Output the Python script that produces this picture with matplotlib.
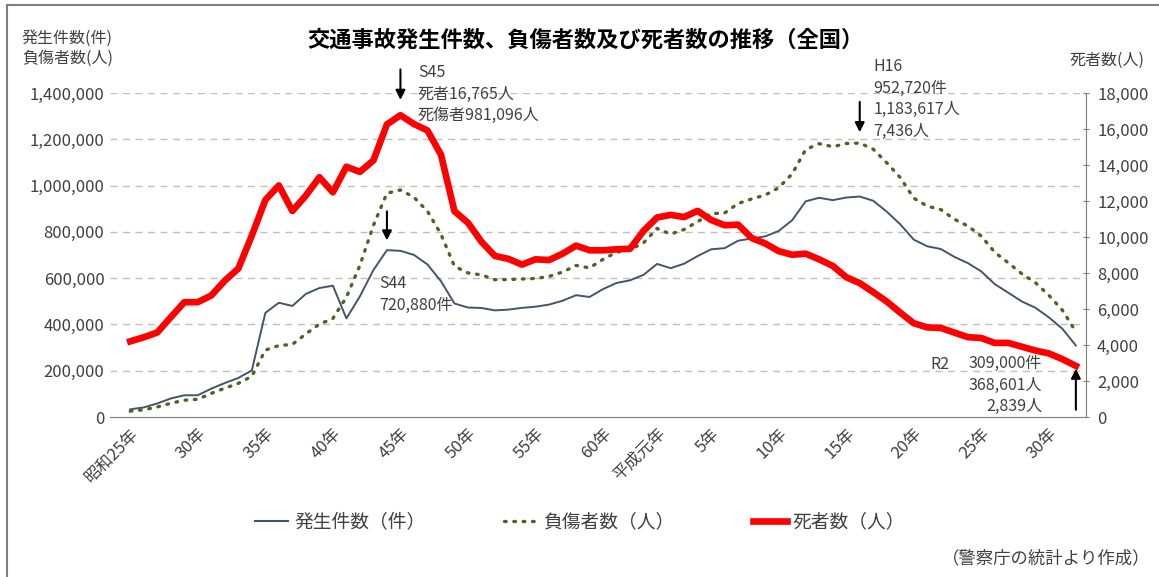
import matplotlib
matplotlib.use("Agg")
import matplotlib.pyplot as plt
from matplotlib.lines import Line2D
from matplotlib.patches import Rectangle
from matplotlib.ticker import FuncFormatter, MultipleLocator
import numpy as np

plt.rcParams['font.family'] = ['Noto Sans CJK JP', 'DejaVu Sans']

# 昭和25年(1950) ～ 令和2年(2020)
years = np.arange(1950, 2021)

accidents = [
    33212, 41423, 58487, 80019, 93869, 93981, 122691, 146833, 168799, 201292,
    449917, 493693, 479825, 531966, 557183, 567286, 425944, 521481, 635056, 720880,
    718080, 700290, 659283, 586713, 490452, 472938, 471041, 460649, 464037, 471573,
    476677, 485578, 502261, 526362, 518642, 552788, 579190, 590723, 614481, 661363,
    643097, 662392, 695345, 724675, 729461, 761794, 771085, 780401, 803882, 850371,
    931950, 947253, 936950, 948281, 952720, 934346, 887267, 832704, 766394, 737628,
    725924, 692084, 665157, 629033, 573842, 536899, 499201, 472165, 430601, 381237,
    309000,
]
injured = [
    25450, 31274, 43321, 59280, 72390, 76501, 102072, 124530, 145432, 175951,
    289156, 308697, 313813, 359089, 401117, 425666, 517775, 655377, 828071, 967000,
    981096, 949689, 889198, 789948, 651420, 622467, 613957, 593211, 594116, 596282,
    598719, 607346, 626192, 654822, 644321, 681346, 712330, 722179, 752845, 814832,
    790295, 810245, 844003, 878633, 881723, 922677, 942204, 958925, 990676, 1050399,
    1155707, 1181039, 1168029, 1181681, 1183617, 1157113, 1098564, 1034652, 945703, 911215,
    896297, 854613, 825392, 781494, 711374, 666023, 618853, 580850, 525846, 461775,
    368601,
]
deaths = [
    4202, 4429, 4696, 5544, 6374, 6379, 6751, 7575, 8248, 10079,
    12055, 12865, 11445, 12301, 13318, 12484, 13904, 13618, 14256, 16257,
    16765, 16278, 15918, 14574, 11432, 10792, 9734, 8945, 8783, 8466,
    8760, 8719, 9073, 9520, 9262, 9261, 9317, 9347, 10344, 11086,
    11227, 11109, 11452, 10945, 10653, 10684, 9943, 9642, 9214, 9012,
    9073, 8757, 8396, 7768, 7436, 6937, 6415, 5796, 5209, 4979,
    4948, 4691, 4438, 4388, 4113, 4117, 3904, 3694, 3532, 3215,
    2839,
]

tick_years = [1950, 1955, 1960, 1965, 1970, 1975, 1980, 1985, 1989,
              1993, 1998, 2003, 2008, 2013, 2018]
tick_labels = ['昭和25年', '30年', '35年', '40年', '45年', '50年', '55年', '60年',
               '平成元年', '5年', '10年', '15年', '20年', '25年', '30年']

c_acc = '#44546A'
c_inj = '#4F6228'
c_dead = '#FF0000'
txt = '#404040'
dots = (0, (0.5, 2.3))

W, H = 1159, 577
fig = plt.figure(figsize=(W / 100, H / 100), dpi=100)
fig.patches.append(Rectangle((7 / W, -0.1), 1.2, 1 - 5 / H + 0.1, transform=fig.transFigure,
                             fill=False, edgecolor='#7F7F7F', lw=1.5))

ax = fig.add_axes([110 / W, 160 / H, 976 / W, 324 / H])
ax2 = ax.twinx()

ax.plot(years, accidents, color=c_acc, lw=1.4, zorder=3)
ax.plot(years, injured, color=c_inj, lw=2.4, linestyle=dots,
        dash_capstyle='round', zorder=3)
ax2.plot(years, deaths, color=c_dead, lw=4.8, solid_joinstyle='round', zorder=4)

ax.set_xlim(1948.5, 2020.75)
ax.set_ylim(0, 1400000)
ax2.set_ylim(0, 18000)
ax.yaxis.set_major_locator(MultipleLocator(200000))
ax2.yaxis.set_major_locator(MultipleLocator(2000))
ax.yaxis.set_major_formatter(FuncFormatter(lambda v, p: f'{v:,.0f}'))
ax2.yaxis.set_major_formatter(FuncFormatter(lambda v, p: f'{v:,.0f}'))

ax.set_xticks(tick_years)
ax.set_xticklabels(tick_labels, rotation=45, ha='right', va='top',
                   rotation_mode='anchor', fontsize=12, color=txt)
ax.tick_params(axis='x', length=0, pad=6)
ax.tick_params(axis='y', length=0, labelsize=12, labelcolor=txt, pad=4)
ax2.tick_params(axis='y', length=4, direction='inout', labelsize=12, labelcolor=txt,
                color='#7F7F7F', pad=6)

for v in range(200000, 1400001, 200000):
    ax.axhline(v, color='#BFBFBF', lw=1, linestyle=(0, (5, 4)), zorder=1)

for a in (ax, ax2):
    for s in ('top', 'left', 'right'):
        a.spines[s].set_visible(False)
    a.spines['bottom'].set_color('#7F7F7F')
ax2.spines['bottom'].set_visible(False)
ax2.spines['right'].set_visible(True)
ax2.spines['right'].set_color('#7F7F7F')

arrow = dict(arrowstyle='-|>', color='black', lw=1.5, mutation_scale=14)

# S45 死者数のピーク
i45 = years.tolist().index(1970)
ax2.annotate('', xy=(1970, deaths[i45] + 700), xytext=(1970, deaths[i45] + 2700),
             arrowprops=arrow, annotation_clip=False)
ax.text(1971.3, 1525000, 'S45\n死者16,765人\n死傷者981,096人', fontsize=11.5,
        color=txt, va='top', linespacing=1.35)

# S44 発生件数のピーク
i44 = years.tolist().index(1969)
ax.annotate('', xy=(1969, accidents[i44] + 30000), xytext=(1969, accidents[i44] + 180000),
            arrowprops=arrow)
ax.text(1968.4, 613000, 'S44\n720,880件', fontsize=11.5, color=txt, va='top',
        linespacing=1.35)

# H16 負傷者数のピーク
i16 = years.tolist().index(2004)
ax.annotate('', xy=(2004, injured[i16] + 35000), xytext=(2004, injured[i16] + 190000),
            arrowprops=arrow, annotation_clip=False)
ax.text(2005.0, 1551000, 'H16\n952,720件\n1,183,617人\n7,436人', fontsize=11.5,
        color=txt, va='top', linespacing=1.35)

# R2
i2 = years.tolist().index(2020)
ax2.annotate('', xy=(2020, deaths[i2]), xytext=(2020, 250),
             arrowprops=arrow)
ax.text(2009.2, 225000, 'R2', fontsize=11.5, color=txt, va='center')
ax.text(2017.5, 268000, '309,000件\n368,601人\n2,839人', fontsize=11.5, color=txt,
        va='top', ha='right', multialignment='right', linespacing=1.35)

fig.text(585 / W, 1 - 40 / H, '交通事故発生件数、負傷者数及び死者数の推移（全国）',
         ha='center', va='center', fontsize=16, fontweight='bold', color='black')
fig.text(22 / W, 1 - 30 / H, '発生件数(件)\n負傷者数(人)', ha='left', va='top',
         fontsize=11.5, color=txt, linespacing=1.2)
fig.text(1145 / W, 1 - 60 / H, '死者数(人)', ha='right', va='center',
         fontsize=11.5, color=txt)

handles = [
    Line2D([], [], color=c_acc, lw=1.5),
    Line2D([], [], color=c_inj, lw=2.4, linestyle=dots, dash_capstyle='round'),
    Line2D([], [], color=c_dead, lw=4.8),
]
fig.legend(handles, ['発生件数（件）', '負傷者数（人）', '死者数（人）'],
           loc='center', bbox_to_anchor=(580 / W, 1 - 522 / H), ncol=3, frameon=False,
           fontsize=13.5, handlelength=1.8, handletextpad=0.3, columnspacing=4.2,
           labelcolor=txt)

fig.text(1150 / W, 1 - 558 / H, '（警察庁の統計より作成）', ha='right', va='center',
         fontsize=12.5, color=txt)

fig.savefig('out.png', dpi=100)
